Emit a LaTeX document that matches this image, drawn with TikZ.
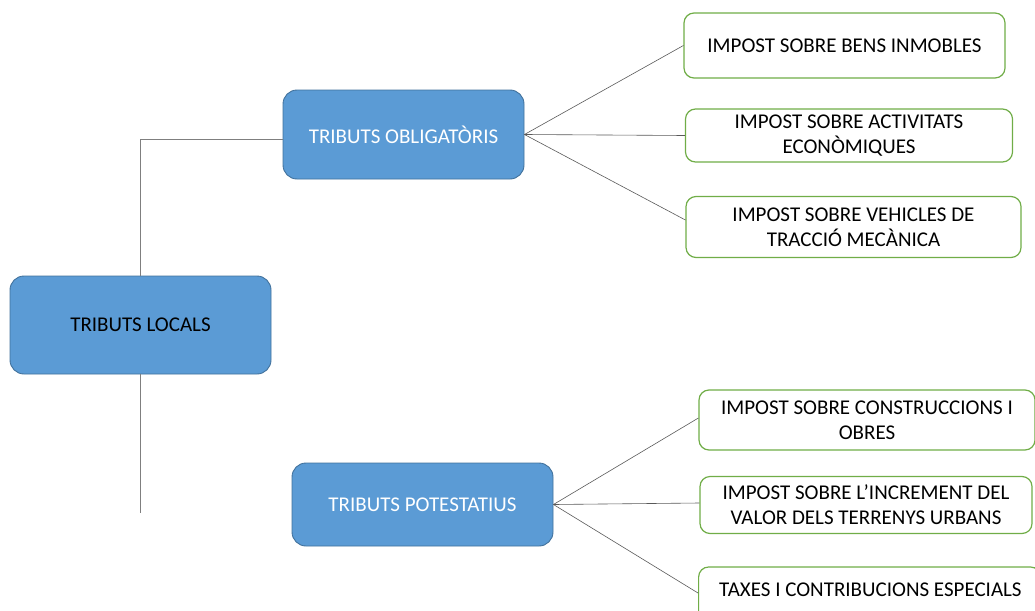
\documentclass[tikz,border=0pt]{standalone}
\usepackage{fontspec}
\setmainfont{Carlito}
\definecolor{bluefill}{HTML}{5B9BD5}
\definecolor{blueline}{HTML}{41719C}
\definecolor{greenline}{HTML}{70AD47}
\definecolor{conn}{HTML}{7F7F7F}
\definecolor{fan}{HTML}{595959}
\begin{document}
\begin{tikzpicture}[x=1pt,y=-1pt,
  bluebox/.style={draw=blueline,fill=bluefill,line width=0.9pt,rounded corners=14pt,inner sep=0pt,align=center,font=\fontsize{21}{25}\selectfont},
  greenbox/.style={draw=greenline,fill=white,line width=1.2pt,rounded corners=10pt,inner sep=0pt,align=center,font=\fontsize{21}{25}\selectfont},
  trunk/.style={draw=conn,line width=0.9pt},
  fanline/.style={draw=fan,line width=0.6pt}]
\clip (0,0) rectangle (1035,610);
\useasboundingbox (0,0) rectangle (1035,610);
\node[bluebox,minimum width=261pt,minimum height=98pt,text=black] (locals) at (140.5,325) {TRIBUTS LOCALS};
\node[bluebox,minimum width=241pt,minimum height=89pt,text=white] (oblig) at (403.5,134.5) {TRIBUTS OBLIGATÒRIS};
\node[bluebox,minimum width=261pt,minimum height=83pt,text=white] (potest) at (422.5,504.5) {TRIBUTS POTESTATIUS};
\node[greenbox,minimum width=321pt,minimum height=65pt] (bens) at (844.5,45.5) {IMPOST SOBRE BENS INMOBLES};
\node[greenbox,minimum width=327pt,minimum height=53pt] (activ) at (849,135.5) {IMPOST SOBRE ACTIVITATS\\ECONÒMIQUES};
\node[greenbox,minimum width=335pt,minimum height=61pt] (vehic) at (853.5,227) {IMPOST SOBRE VEHICLES DE\\TRACCIÓ MECÀNICA};
\node[greenbox,minimum width=336pt,minimum height=60pt] (constr) at (867,420) {IMPOST SOBRE CONSTRUCCIONS I\\OBRES};
\node[greenbox,minimum width=332pt,minimum height=57pt] (incr) at (866,505) {IMPOST SOBRE L’INCREMENT DEL\\VALOR DELS TERRENYS URBANS};
\node[greenbox,minimum width=342pt,minimum height=58pt,anchor=west] (taxes) at (698,596) {};
\node[font=\fontsize{21}{25}\selectfont,anchor=west,inner sep=0pt] (taxest) at (719,590) {TAXES I CONTRIBUCIONS ESPECIALS};
\coordinate (trunkend) at (140.5,513);
\draw[trunk] (locals.north) |- ([yshift=-5pt]oblig.west);
\draw[trunk] (locals.south) -- (trunkend);
\draw[fanline] (oblig.east) -- (bens.west);
\draw[fanline] (oblig.east) -- (activ.west);
\draw[fanline] (oblig.east) -- ([yshift=7pt]vehic.west);
\draw[fanline] (potest.east) -- ([yshift=2pt]constr.west);
\draw[fanline] (potest.east) -- ([yshift=2pt]incr.west);
\draw[fanline] (potest.east) -- ([yshift=3pt]taxes.west);
\end{tikzpicture}
\end{document}
